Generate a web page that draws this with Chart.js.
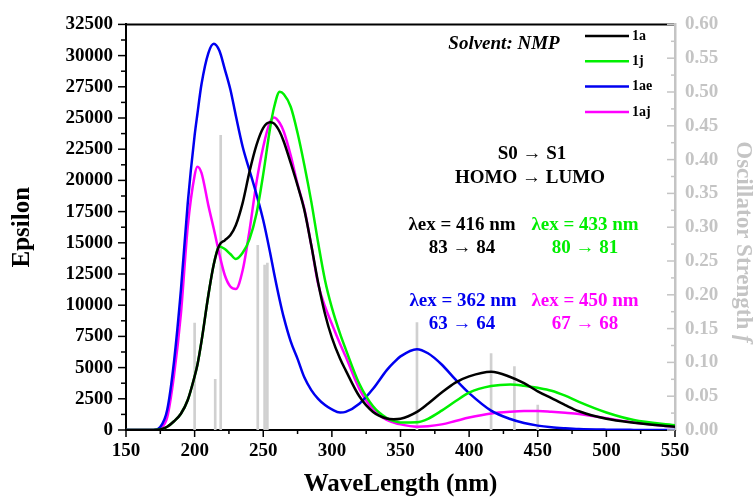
<!DOCTYPE html>
<html>
<head>
<meta charset="utf-8">
<title>Epsilon spectra</title>
<script src="https://cdn.jsdelivr.net/npm/chart.js@4.4.1/dist/chart.umd.min.js"></script>
<style>
  html, body { margin: 0; padding: 0; background: #fff; }
  #wrap { width: 755px; height: 503px; }
</style>
</head>
<body>
<div id="wrap"><canvas id="specChart"></canvas></div>
<script>
// wavelength grid (nm) shared by the four spectra
const wavelengths = [150, 170, 175, 180, 185, 190, 195, 200, 202, 205, 210, 214, 218, 222, 226, 230, 235, 240, 245, 250,
  255, 258, 262, 265, 270, 275, 280, 285, 290, 295, 300, 306, 310, 320, 330, 340, 345, 350, 362, 370,
  380, 390, 400, 416, 430, 440, 450, 460, 470, 480, 500, 520, 550];

// molar absorptivity for each compound, one value per wavelength
const eps1a = [0, 0, 40, 260, 700, 1300, 2400, 4300, 5200, 7100, 10800, 13300, 14800, 15200, 15600, 16400, 18200, 20700, 22800, 24200,
  24650, 24550, 23900, 23100, 21400, 19600, 17600, 14800, 11800, 9300, 7400, 5700, 4800, 2700, 1450, 920, 860, 900, 1450, 2100,
  3000, 3800, 4300, 4670, 4250, 3750, 3100, 2550, 2000, 1500, 900, 580, 250];
const eps1j = [0, 0, 40, 260, 700, 1300, 2400, 4300, 5200, 7100, 10800, 13300, 14700, 14500, 14100, 13700, 14200, 15300, 17300, 20500,
  24200, 25900, 27100, 26900, 25900, 23800, 21200, 18300, 15000, 12000, 9800, 7700, 6500, 3700, 1900, 950, 720, 600, 620, 900,
  1550, 2300, 3000, 3520, 3650, 3550, 3380, 3150, 2750, 2250, 1400, 800, 380];
const eps1ae = [0, 0, 250, 1600, 5500, 11200, 18200, 23600, 25300, 27700, 30200, 30950, 30400, 28900, 27300, 25200, 22700, 20800, 18900, 16800,
  14200, 12500, 10400, 9000, 7100, 5700, 4200, 3200, 2500, 2000, 1650, 1400, 1450, 2100, 3300, 4800, 5400, 5900, 6480, 6150,
  5250, 4050, 2950, 1550, 880, 560, 350, 220, 140, 80, 30, 10, 0];
const eps1aj = [0, 0, 150, 1000, 4400, 9300, 16300, 20400, 21100, 20600, 18000, 16100, 14100, 12400, 11500, 11300, 12800, 16000, 19800, 22700,
  24700, 25050, 24600, 23900, 22000, 19700, 17700, 14800, 11700, 9900, 8500, 6900, 5900, 3300, 1650, 800, 600, 450, 270, 300,
  450, 720, 1000, 1330, 1470, 1520, 1520, 1460, 1380, 1280, 950, 600, 250];

const seriesNames = ['1a', '1j', '1ae', '1aj'];
const seriesValues = [eps1a, eps1j, eps1ae, eps1aj];
const seriesColors = ['#000000', '#00f000', '#0000f0', '#ff00ff'];

// computed transitions: wavelength (nm) and oscillator strength
const stickNm = [200, 215, 219, 246, 251, 253, 362, 416, 433, 450];
const stickF = [0.158, 0.075, 0.436, 0.273, 0.244, 0.247, 0.159, 0.113, 0.094, 0.037];

const SERIF = '"Liberation Serif", "Times New Roman", serif';
const GREY = '#c4c4c4';

const lineSets = seriesNames.map((name, i) => ({
  type: 'line',
  label: name,
  data: wavelengths.map((w, j) => ({ x: w, y: seriesValues[i][j] })),
  borderColor: seriesColors[i],
  borderWidth: 2.5,
  pointRadius: 0,
  cubicInterpolationMode: 'monotone',
  yAxisID: 'y',
  order: 1
}));

const stickSet = {
  type: 'bar',
  label: 'f',
  data: stickNm.map((w, i) => ({ x: w, y: stickF[i] })),
  backgroundColor: '#d0d0d0',
  barThickness: 2,
  grouped: false,
  yAxisID: 'y2',
  order: 2
};

// text blocks inside the plot
const notes = [
  { text: 'S0 \u2192 S1', color: '#000', x: 532, y: 154 },
  { text: 'HOMO \u2192 LUMO', color: '#000', x: 530, y: 178 },
  { text: '\u03bbex = 416 nm', color: '#000', x: 462, y: 225 },
  { text: '83 \u2192 84', color: '#000', x: 462, y: 248 },
  { text: '\u03bbex = 433 nm', color: '#00ee00', x: 585, y: 225 },
  { text: '80 \u2192 81', color: '#00ee00', x: 585, y: 248 },
  { text: '\u03bbex = 362 nm', color: '#0000ee', x: 463, y: 301 },
  { text: '63 \u2192 64', color: '#0000ee', x: 462, y: 324 },
  { text: '\u03bbex = 450 nm', color: '#ff00ff', x: 585, y: 301 },
  { text: '67 \u2192 68', color: '#ff00ff', x: 585, y: 324 }
];

function seg(ctx, x1, y1, x2, y2) {
  ctx.beginPath();
  ctx.moveTo(x1, y1);
  ctx.lineTo(x2, y2);
  ctx.stroke();
}

const decorations = {
  id: 'decorations',
  afterDraw(chart) {
    const { ctx, chartArea: a, scales } = chart;
    const { x, y, y2 } = scales;
    ctx.save();

    // top frame line
    ctx.strokeStyle = '#000';
    ctx.lineWidth = 2;
    seg(ctx, a.left, a.top, a.right - 1, a.top);

    // left ticks (outward), minor every 1250
    ctx.lineWidth = 1.5;
    for (let v = 0; v <= 32500; v += 1250) {
      const py = y.getPixelForValue(v);
      seg(ctx, a.left - (v % 2500 === 0 ? 8 : 5), py, a.left, py);
    }
    // bottom ticks (outward), minor every 25 nm
    for (let v = 150; v <= 550; v += 25) {
      const px = x.getPixelForValue(v);
      seg(ctx, px, a.bottom, px, a.bottom + (v % 50 === 0 ? 7 : 4));
    }
    // right ticks (inward, grey)
    ctx.strokeStyle = GREY;
    for (let i = 0; i <= 24; i++) {
      const py = y2.getPixelForValue(i * 0.025);
      seg(ctx, a.right - (i % 2 === 0 ? 8 : 4), py, a.right, py);
    }

    // legend, top right inside the plot
    ctx.font = 'bold 14px ' + SERIF;
    ctx.textBaseline = 'middle';
    ctx.textAlign = 'left';
    chart.data.datasets.filter(d => d.type === 'line').forEach((d, i) => {
      const ly = 36 + i * 25.3;
      ctx.strokeStyle = d.borderColor;
      ctx.lineWidth = 2.5;
      seg(ctx, 585, ly, 629, ly);
      ctx.fillStyle = '#000';
      ctx.fillText(d.label, 632, ly);
    });

    // solvent note
    ctx.textAlign = 'center';
    ctx.font = 'italic bold 19px ' + SERIF;
    ctx.fillStyle = '#000';
    ctx.fillText('Solvent: NMP', 504, 44);

    // transition notes
    ctx.font = 'bold 19px ' + SERIF;
    notes.forEach(n => {
      ctx.fillStyle = n.color;
      ctx.fillText(n.text, n.x, n.y);
    });

    // right axis title with italic f
    ctx.translate(743, 242);
    ctx.rotate(Math.PI / 2);
    ctx.fillStyle = GREY;
    ctx.textAlign = 'left';
    const head = 'Oscillator Strength ';
    ctx.font = 'bold 23px ' + SERIF;
    const w1 = ctx.measureText(head).width;
    ctx.font = 'italic bold 23px ' + SERIF;
    const w2 = ctx.measureText('f').width;
    ctx.font = 'bold 23px ' + SERIF;
    ctx.fillText(head, -(w1 + w2) / 2, 0);
    ctx.font = 'italic bold 23px ' + SERIF;
    ctx.fillText('f', -(w1 + w2) / 2 + w1, 0);

    ctx.restore();
  }
};

new Chart(document.getElementById('specChart'), {
  data: { datasets: [...lineSets, stickSet] },
  options: {
    responsive: true,
    maintainAspectRatio: false,
    animation: false,
    layout: { padding: { top: 24, right: 0, bottom: 0, left: 0 } },
    plugins: {
      legend: { display: false },
      tooltip: { enabled: false }
    },
    scales: {
      x: {
        type: 'linear',
        min: 150,
        max: 550,
        offset: false,
        grid: { display: false, drawTicks: false },
        border: { display: true, color: '#000', width: 2 },
        ticks: {
          stepSize: 50,
          maxRotation: 0,
          padding: 10,
          color: '#000',
          font: { family: SERIF, size: 19, weight: 'bold' },
          callback: v => String(v)
        },
        title: {
          display: true,
          text: 'WaveLength (nm)',
          color: '#000',
          font: { family: SERIF, size: 25, weight: 'bold' },
          padding: { top: 0, bottom: 3 }
        },
        afterFit: s => { s.height = 73; }
      },
      y: {
        type: 'linear',
        position: 'left',
        min: 0,
        max: 32500,
        grid: { display: false, drawTicks: false },
        border: { display: true, color: '#000', width: 2 },
        ticks: {
          stepSize: 2500,
          padding: 13,
          color: '#000',
          font: { family: SERIF, size: 19, weight: 'bold' },
          callback: v => String(v)
        },
        title: {
          display: true,
          text: 'Epsilon',
          color: '#000',
          font: { family: SERIF, size: 25, weight: 'bold' },
          padding: { top: 8, bottom: 0 }
        },
        afterFit: s => { s.width = 126; }
      },
      y2: {
        type: 'linear',
        position: 'right',
        min: 0,
        max: 0.6,
        grid: { display: false, drawTicks: false },
        border: { display: true, color: GREY, width: 2.5 },
        ticks: {
          stepSize: 0.05,
          padding: 10,
          color: GREY,
          font: { family: SERIF, size: 19, weight: 'bold' },
          callback: v => v.toFixed(2)
        },
        afterFit: s => { s.width = 80; }
      }
    }
  },
  plugins: [decorations]
});
</script>
</body>
</html>
